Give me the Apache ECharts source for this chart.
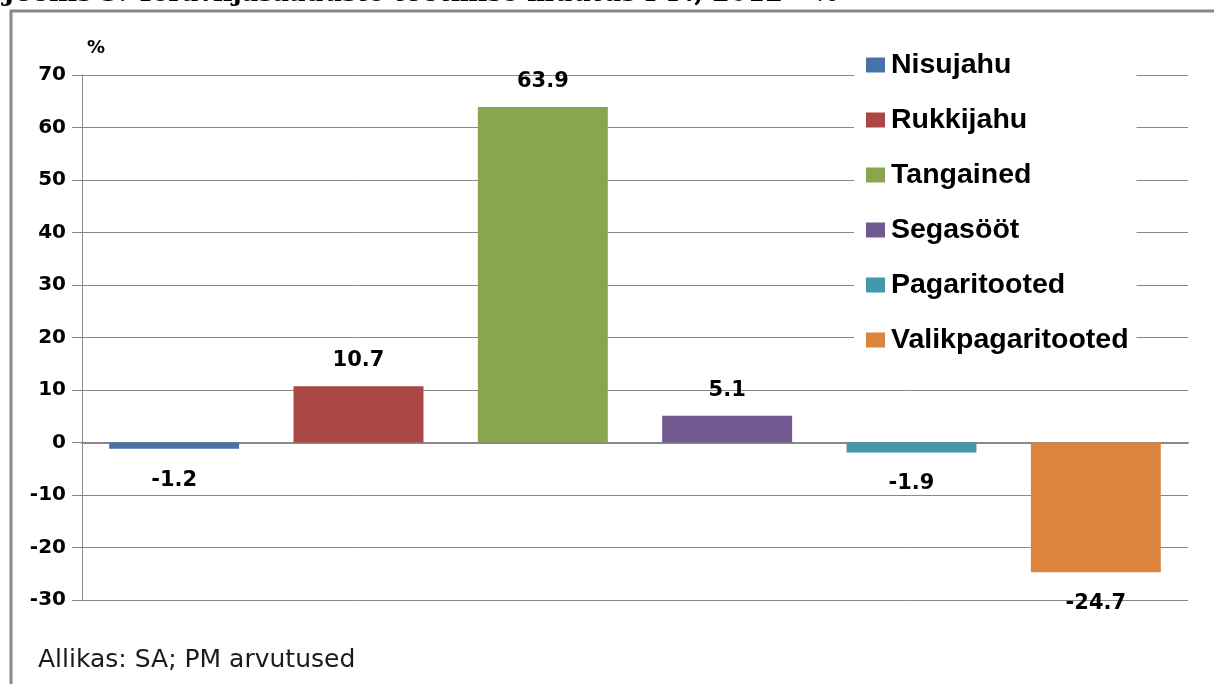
<!DOCTYPE html>
<html>
<head>
<meta charset="utf-8">
<script src="https://cdn.jsdelivr.net/npm/echarts@6/dist/echarts.min.js"></script>
<style>
html,body{margin:0;padding:0;background:#fff;}
#c{width:1214px;height:684px;}
</style>
</head>
<body>
<div id="c"></div>
<script>
var categories = ['Nisujahu', 'Rukkijahu', 'Tangained', 'Segasööt', 'Pagaritooted', 'Valikpagaritooted'];
var values = [-1.2, 10.7, 63.9, 5.1, -1.9, -24.7];
var colors = ['#4572A7', '#AA4643', '#89A54E', '#71588F', '#4198AF', '#DB843D'];
var yTicks = { min: -30, max: 70, interval: 10 };
var titleText = 'Joonis 3. Teraviljasaaduste tootmise muutus I-IV, 2012 – %';
var sourceText = 'Allikas: SA; PM arvutused';

var chart = echarts.init(document.getElementById('c'), null, { renderer: 'canvas' });

var series = categories.map(function (name, i) {
  var d = categories.map(function (c, j) { return j === i ? values[i] : '-'; });
  return {
    name: name,
    type: 'bar',
    stack: 'all',
    barCategoryGap: '29.5%',
    data: d,
    itemStyle: { color: colors[i] },
    label: {
      show: true,
      position: values[i] >= 0 ? 'top' : 'bottom',
      distance: 18,
      offset: [0, 3],
      formatter: function (p) { return p.value.toFixed(1); },
      color: '#000',
      fontFamily: 'DejaVu Sans',
      fontWeight: 'bold',
      fontSize: 21
    },
    emphasis: { disabled: true },
    animation: false
  };
});

chart.setOption({
  animation: false,
  backgroundColor: '#fff',
  grid: { left: 82, right: 26, top: 75, bottom: 84, containLabel: false },
  xAxis: {
    type: 'category',
    data: categories,
    axisLine: { onZero: true, lineStyle: { color: '#888', width: 2 } },
    axisTick: { show: false },
    axisLabel: { show: false },
    splitLine: { show: false }
  },
  yAxis: {
    type: 'value',
    min: yTicks.min,
    max: yTicks.max,
    interval: yTicks.interval,
    axisLine: { show: true, lineStyle: { color: '#888', width: 1 } },
    axisTick: { show: true, length: 10, lineStyle: { color: '#888' } },
    axisLabel: {
      color: '#000',
      fontFamily: 'DejaVu Sans',
      fontWeight: 'bold',
      fontSize: 20,
      margin: 16
    },
    splitLine: { show: true, lineStyle: { color: '#888', width: 1 } }
  },
  legend: {
    orient: 'vertical',
    left: 854,
    top: 45,
    padding: [5, 8, 5, 12],
    backgroundColor: '#fff',
    itemWidth: 19,
    itemHeight: 15,
    itemGap: 25,
    icon: 'rect',
    data: categories,
    textStyle: {
      color: '#000',
      fontFamily: 'Liberation Sans',
      fontWeight: 'bold',
      fontSize: 28.5,
      lineHeight: 30,
      padding: [0, 0, 0, 1]
    },
    selectedMode: false
  },
  graphic: [
    {
      type: 'text',
      left: 3,
      top: -19,
      style: {
        text: titleText,
        font: 'bold 25.5px "DejaVu Serif"',
        fill: '#000'
      },
      z: 10
    },
    {
      type: 'polyline',
      shape: { points: [[11, 684], [11, 11], [1214, 11]] },
      style: { stroke: '#888', lineWidth: 3, fill: null },
      z: 10
    },
    {
      type: 'text',
      left: 87,
      top: 39,
      style: { text: '%', font: 'bold 18px "DejaVu Sans"', fill: '#000' }
    },
    {
      type: 'text',
      left: 38,
      top: 648,
      style: { text: sourceText, font: '25px "DejaVu Sans"', fill: '#1a1a1a' }
    }
  ],
  series: series
});
</script>
</body>
</html>
